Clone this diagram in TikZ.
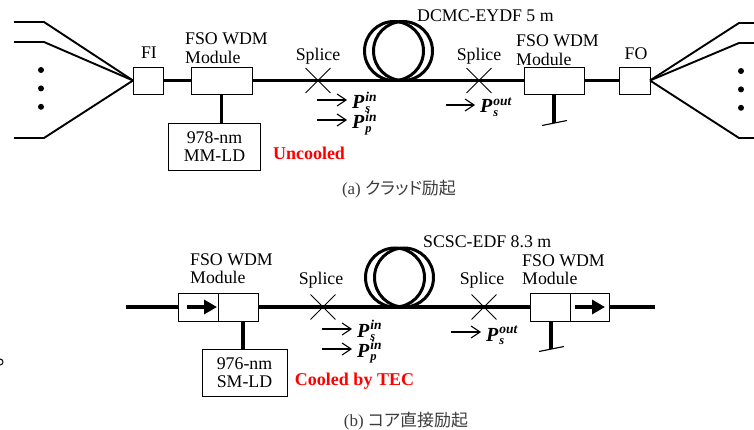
\documentclass[tikz,border=0pt]{standalone}
\usepackage{fontspec}
\setmainfont{Liberation Serif}
\newfontfamily\cjk[RawFeature=+palt]{Noto Sans CJK JP}
\usetikzlibrary{positioning, arrows.meta, shapes.misc}
\definecolor{CaptionGray}{RGB}{60, 60, 60}
\newcommand{\powerlabel}[2]{\bfseries\itshape\fontsize{20}{20}\selectfont P\kern1pt\rlap{\raisebox{7.5pt}{\fontsize{13.5}{13.5}\selectfont #2}}\raisebox{-3.5pt}{\fontsize{12.5}{12.5}\selectfont #1}}
\tikzset{
  box/.style={rectangle, draw, line width=0.9pt, outer sep=0pt, inner sep=0pt, minimum height=27pt},
  label/.style={inner sep=0pt, align=left, font=\fontsize{17.8}{18.5}\selectfont},
  ldbox/.style={box, minimum width=92pt, minimum height=47pt, align=center, font=\fontsize{17.8}{17.5}\selectfont},
  fiber/.style={line width=3.9pt},
  fan/.style={line width=1.9pt},
  coil/.style={circle, draw, line width=3pt, minimum size=59pt, inner sep=0pt},
  splice/.style={cross out, draw, line width=0.9pt, minimum width=24pt, minimum height=24pt, inner sep=0pt},
  dot/.style={circle, fill, minimum size=6pt, inner sep=0pt},
  probe/.style={-{Straight Barb[length=9pt, width=12pt]}, line width=1.1pt, shorten >=5pt},
  power/.style={inner sep=0pt, anchor=base west},
  isolator/.style={-{Triangle[length=13pt, width=14pt]}, line width=3.3pt},
  hot/.style={inner sep=0pt, text=red, font=\fontsize{18}{18}\selectfont\bfseries},
  caption/.style={inner sep=0pt, text=CaptionGray, font=\fontsize{17}{17}\selectfont}
}
\begin{document}
\begin{tikzpicture}[x=1pt, y=-1pt, node distance=28pt]
\useasboundingbox (0,0) rectangle (754,430);
% (a) cladding pumped
\node (fi) [box, minimum width=30pt] at (148,80.5) {};
\node (wdmA) [box, minimum width=61pt, right=of fi] {};
\node (ldA) [ldbox] at (214.5,146.5) {978-nm\\MM-LD};
\node (coilA) [coil] at (394,51) {};
\node (coilB) [coil] at (403,51) {};
\node (spliceA) [splice] at (318,80.5) {};
\node (spliceB) [splice] at (479,80.5) {};
\node (wdmC) [box, minimum width=60pt] at (554,80.5) {};
\node (fo) [box, minimum width=31pt, right=35pt of wdmC] {};
\draw[fiber] (fi) -- (wdmA);
\draw[fiber] (wdmA) -- (wdmC);
\draw[fiber] (wdmC) -- (fo);
\draw[fiber] (wdmA.south) -- (wdmA.south |- ldA.north);
% fiber bundles
\coordinate (inA) at (14,22); \coordinate (inAk) at (44,22);
\coordinate (inB) at (14,42); \coordinate (inBk) at (44,42);
\coordinate (inC) at (14,138); \coordinate (inCk) at (44,138);
\coordinate (outA) at (754,23); \coordinate (outAk) at (739,23);
\coordinate (outB) at (754,43); \coordinate (outBk) at (739,43);
\coordinate (outC) at (754,138); \coordinate (outCk) at (739,138);
\draw[fan] (inA) -- (inAk) -- (fi.west);
\draw[fan] (inB) -- (inBk) -- (fi.west);
\draw[fan] (inC) -- (inCk) -- (fi.west);
\draw[fan] (outA) -- (outAk) -- (fo.east);
\draw[fan] (outB) -- (outBk) -- (fo.east);
\draw[fan] (outC) -- (outCk) -- (fo.east);
\node (dotA) [dot] at (41,70) {};
\node (dotB) [dot, below=12pt of dotA] {};
\node (dotC) [dot, below=12pt of dotB] {};
\node (dotD) [dot] at (741,71) {};
\node (dotE) [dot, below=12pt of dotD] {};
\node (dotF) [dot, below=12pt of dotE] {};
% ground
\coordinate (gndA) at (554,123);
\coordinate (tickA) at (542,125.5);
\coordinate (tickB) at (567,120.5);
\draw[fiber] (wdmC.south) -- (gndA);
\draw[line width=1.1pt] (tickA) -- (tickB);
% labels
\node (fiT) [label] at (149,53) {FI};
\node (foT) [label] at (636,54) {FO};
\node (wdmAT) [label, anchor=west] at (185,48) {FSO WDM\\Module};
\node (wdmCT) [label, anchor=west] at (516,50) {FSO WDM\\Module};
\node (spliceAT) [label] at (318,56.5) {Splice};
\node (spliceBT) [label] at (479,56.5) {Splice};
\node (fiberA) [label, anchor=west] at (417,16) {DCMC-EYDF 5 m};
\node (coolA) [hot] at (309,153) {Uncooled};
\node (capA) [caption] at (399,189) {(a) {\cjk クラッド励起}};
\coordinate (prA) at (317,100); \node (psA) [power] at (352,109) {\powerlabel{s}{in}};
\coordinate (prB) at (317,120); \node (ppA) [power] at (352,129) {\powerlabel{p}{in}};
\coordinate (prC) at (446,105); \node (poA) [power] at (480,113) {\powerlabel{s}{out}};
\draw[probe] (prA) -- (prA -| psA.west);
\draw[probe] (prB) -- (prB -| ppA.west);
\draw[probe] (prC) -- (prC -| poA.west);
% (b) core pumped
\coordinate (inD) at (126,307);
\coordinate (outD) at (655,307);
\node (isoA) [box, minimum width=40pt, minimum height=28pt] at (198,307) {};
\node (wdmB) [box, minimum width=40pt, minimum height=28pt, right=0pt of isoA] {};
\node (ldB) [ldbox, minimum width=85pt] at (244.5,372.5) {976-nm\\SM-LD};
\node (coilC) [coil] at (395,277.5) {};
\node (coilD) [coil] at (404,277.5) {};
\node (spliceC) [splice] at (323,307) {};
\node (spliceD) [splice] at (484,307) {};
\node (wdmD) [box, minimum width=40pt, minimum height=28pt] at (550,307) {};
\node (isoB) [box, minimum width=39pt, minimum height=28pt, right=0pt of wdmD] {};
\coordinate (stemB) at (243,321);
\draw[fiber] (inD) -- (isoA);
\draw[fiber] (wdmB) -- (wdmD);
\draw[fiber] (isoB) -- (outD);
\draw[fiber] (stemB) -- (stemB |- ldB.north);
\coordinate (isoAa) at (187,307); \coordinate (isoAb) at (217,307);
\coordinate (isoBa) at (575,307); \coordinate (isoBb) at (605,307);
\draw[isolator] (isoAa) -- (isoAb);
\draw[isolator] (isoBa) -- (isoBb);
\coordinate (gndB) at (551,349);
\coordinate (tickC) at (539,351.5);
\coordinate (tickD) at (564,346.5);
\draw[fiber] (gndB |- wdmD.south) -- (gndB);
\draw[line width=1.1pt] (tickC) -- (tickD);
\node (wdmBT) [label, anchor=west] at (190,268.5) {FSO WDM\\Module};
\node (wdmDT) [label, anchor=west] at (522,269.5) {FSO WDM\\Module};
\node (spliceCT) [label] at (321,280.5) {Splice};
\node (spliceDT) [label] at (482,280.5) {Splice};
\node (fiberB) [label, anchor=west] at (423,242) {SCSC-EDF 8.3 m};
\node (coolB) [hot] at (354.5,381) {Cooled by TEC};
\node (capB) [caption] at (406,421) {(b) {\cjk コア直接励起}};
\coordinate (prD) at (322,329); \node (psB) [power] at (357,337) {\powerlabel{s}{in}};
\coordinate (prE) at (322,349); \node (ppB) [power] at (357,357) {\powerlabel{p}{in}};
\coordinate (prF) at (451,332); \node (poB) [power] at (486,341) {\powerlabel{s}{out}};
\draw[probe] (prD) -- (prD -| psB.west);
\draw[probe] (prE) -- (prE -| ppB.west);
\draw[probe] (prF) -- (prF -| poB.west);
\node (stray) [circle, draw, line width=1pt, minimum size=6pt, inner sep=0pt] at (0,362) {};
\end{tikzpicture}
\end{document}
